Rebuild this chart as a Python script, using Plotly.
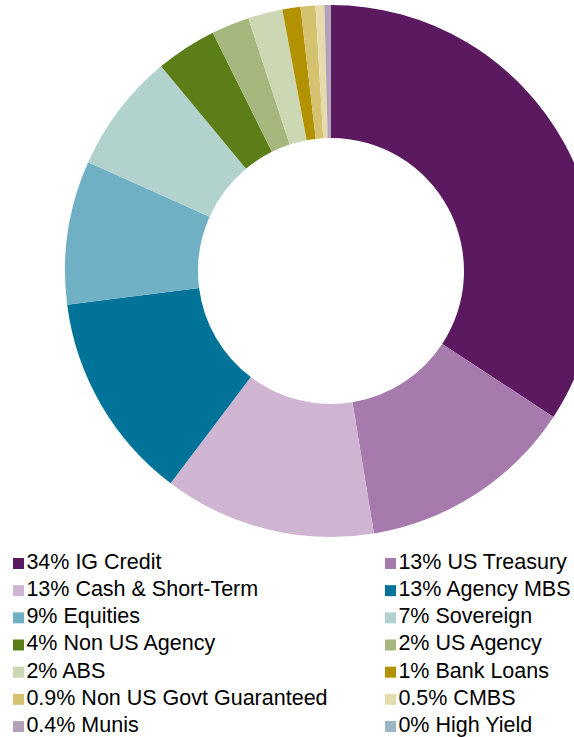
import plotly.graph_objects as go

# ---- data ----
categories = ["IG Credit", "US Treasury", "Cash & Short-Term", "Agency MBS", "Equities",
              "Sovereign", "Non US Agency", "US Agency", "ABS", "Bank Loans",
              "Non US Govt Guaranteed", "CMBS", "Munis", "High Yield"]
pct_labels = ["34%", "13%", "13%", "13%", "9%", "7%", "4%", "2%", "2%", "1%",
              "0.9%", "0.5%", "0.4%", "0%"]
values = [34.24, 13.18, 12.88, 12.67, 8.73, 7.27, 3.70, 2.30, 2.10, 1.10,
          0.90, 0.53, 0.40, 0.0]

# ---- styles ----
colors = ["#5B1A5F", "#A77AAD", "#CFB5D2", "#017399", "#6FB0C5", "#B2D2CE",
          "#5B7E19", "#A6B77E", "#CCD7B4", "#B29200", "#D4C270", "#E5DCAE",
          "#B3A1B9", "#9DB4C4"]

W, H = 610, 737
FONT = "Liberation Sans, Arial, sans-serif"

fig = go.Figure()

# donut: center (331, 271), radius 266 px
fig.add_trace(go.Pie(
    labels=categories, values=values, sort=False, direction="clockwise",
    rotation=0, hole=0.5, textinfo="none", showlegend=False,
    marker=dict(colors=colors, line=dict(width=0)),
    domain=dict(x=[65 / W, 597 / W], y=[1 - 537 / H, 1 - 5 / H]),
    hoverinfo="label+percent",
))

# legend drawn as a two-column grid of square markers with labels
leg_text = [f"{p} {c}" for p, c in zip(pct_labels, categories)]
leg_col = [i % 2 for i in range(len(categories))]
leg_row = [i // 2 for i in range(len(categories))]
fig.add_trace(go.Scatter(
    x=leg_col, y=leg_row, mode="markers+text", text=leg_text,
    textposition="middle right",
    textfont=dict(family=FONT, size=21.5, color="#000000"),
    marker=dict(symbol="square", size=11, color=colors, line=dict(width=0)),
    showlegend=False, hoverinfo="skip", cliponaxis=False,
))

# axis ranges map col 0 -> x=18.5px, col 1 -> x=390.5px ; row 0 -> y=563px, row 6 -> y=726px
col_px = (18.5, 390.5)
row_px = (563.5, 726.5)
sx = (col_px[1] - col_px[0])  # px per column unit
x0 = -col_px[0] / sx
x1 = x0 + W / sx
sy = (row_px[1] - row_px[0]) / 6.0
y_top = -row_px[0] / sy
y_bot = y_top + H / sy

fig.update_layout(
    width=W, height=H,
    margin=dict(l=0, r=0, t=0, b=0),
    paper_bgcolor="white", plot_bgcolor="rgba(0,0,0,0)",
    xaxis=dict(visible=False, range=[x0, x1], fixedrange=True, domain=[0, 1]),
    yaxis=dict(visible=False, range=[y_bot, y_top], fixedrange=True, domain=[0, 1]),
    font=dict(family=FONT),
    showlegend=False,
)

fig.write_html(
    "out.html",
    config={"displayModeBar": False},
    post_script="document.body.style.margin='0';document.body.style.overflow='hidden';",
)
